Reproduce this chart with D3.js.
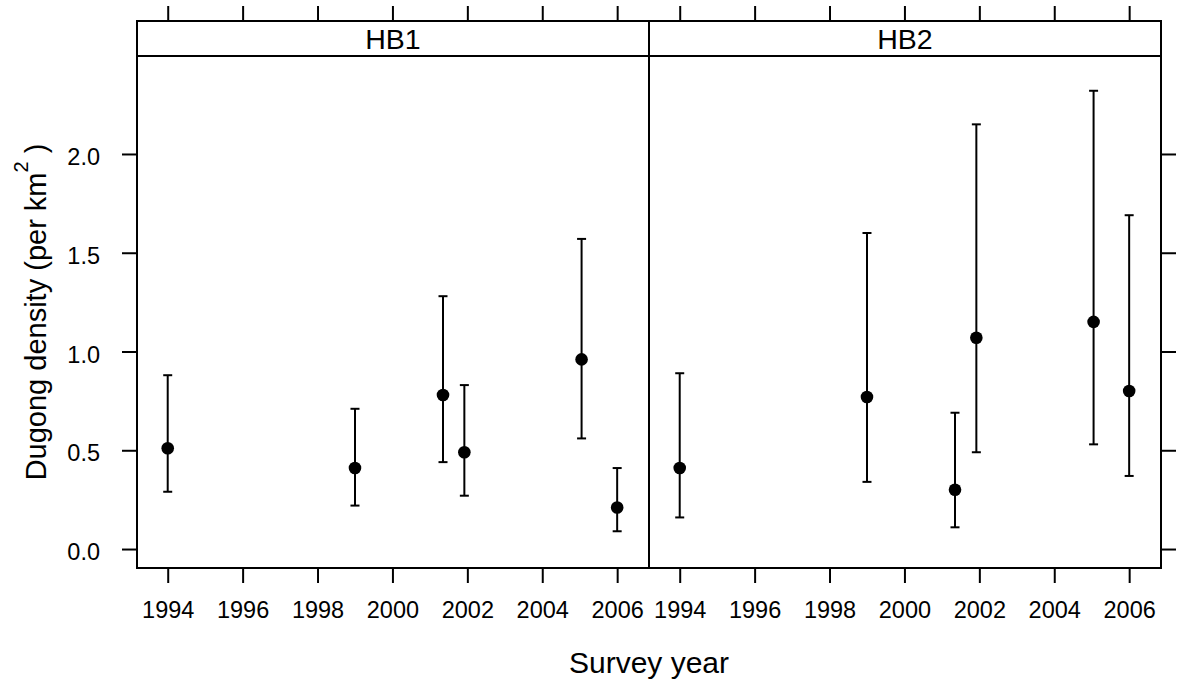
<!DOCTYPE html>
<html>
<head>
<meta charset="utf-8">
<script src="https://cdn.jsdelivr.net/npm/d3@7"></script>
<style>
  body { margin: 0; background: #fff; }
  text { font-family: "Liberation Sans", Arial, sans-serif; fill: #000; }
</style>
</head>
<body>
<script>
// survey data
const panels = ["HB1", "HB2"];
const years = [1994, 1999, 2001.35, 2001.92, 2005.05, 2006.0];
const hb1Est = [0.51, 0.41, 0.78, 0.49, 0.96, 0.21];
const hb1Lo  = [0.29, 0.22, 0.44, 0.27, 0.56, 0.09];
const hb1Hi  = [0.88, 0.71, 1.28, 0.83, 1.57, 0.41];
const hb2Est = [0.41, 0.77, 0.30, 1.07, 1.15, 0.80];
const hb2Lo  = [0.16, 0.34, 0.11, 0.49, 0.53, 0.37];
const hb2Hi  = [0.89, 1.60, 0.69, 2.15, 2.32, 1.69];
const xTicks = [1994, 1996, 1998, 2000, 2002, 2004, 2006];
const yTicks = [0, 0.5, 1.0, 1.5, 2.0];

const W = 1177, H = 684;
const plotLeft = 137, panelW = 512;
const stripTop = 21, panelTop = 56, panelBottom = 568;
const tickLen = 15;

const svg = d3.select("body").append("svg")
    .attr("width", W)
    .attr("height", H);

svg.append("rect").attr("width", W).attr("height", H).attr("fill", "#fff");

const y = d3.scaleLinear().domain([-0.096, 2.496]).range([panelBottom, panelTop]);

const series = [
  {est: hb1Est, lo: hb1Lo, hi: hb1Hi},
  {est: hb2Est, lo: hb2Lo, hi: hb2Hi}
];

panels.forEach((name, i) => {
  const x0 = plotLeft + i * panelW;
  const x = d3.scaleLinear().domain([1993.18, 2006.85]).range([x0, x0 + panelW]);
  const g = svg.append("g");

  // bottom axis with labels
  const xb = g.append("g")
      .attr("transform", `translate(0,${panelBottom})`)
      .call(d3.axisBottom(x).tickValues(xTicks).tickSize(tickLen).tickPadding(18).tickFormat(d3.format("d")));
  xb.select(".domain").remove();
  xb.selectAll("line").attr("stroke", "#000").attr("stroke-width", 2);
  xb.selectAll("text").attr("font-size", 23.5).attr("fill", "#000");

  // top ticks only
  const xt = g.append("g")
      .attr("transform", `translate(0,${stripTop})`)
      .call(d3.axisTop(x).tickValues(xTicks).tickSize(tickLen).tickFormat(""));
  xt.select(".domain").remove();
  xt.selectAll("line").attr("stroke", "#000").attr("stroke-width", 2);

  // strip
  g.append("rect")
      .attr("x", x0).attr("y", stripTop)
      .attr("width", panelW).attr("height", panelTop - stripTop)
      .attr("fill", "#fff").attr("stroke", "#000").attr("stroke-width", 2);
  g.append("text")
      .attr("x", x0 + panelW / 2).attr("y", (stripTop + panelTop) / 2 + 10)
      .attr("text-anchor", "middle").attr("font-size", 28.5)
      .text(name);

  // panel box
  g.append("rect")
      .attr("x", x0).attr("y", panelTop)
      .attr("width", panelW).attr("height", panelBottom - panelTop)
      .attr("fill", "none").attr("stroke", "#000").attr("stroke-width", 2);

  // error bars and points
  const s = series[i];
  const rows = years.map((yr, k) => ({yr, est: s.est[k], lo: s.lo[k], hi: s.hi[k]}));
  const bars = g.append("g").attr("stroke", "#000").attr("stroke-width", 2);
  bars.selectAll("line.v").data(rows).enter().append("line")
      .attr("x1", d => x(d.yr)).attr("x2", d => x(d.yr))
      .attr("y1", d => y(d.lo)).attr("y2", d => y(d.hi));
  bars.selectAll("line.lo").data(rows).enter().append("line")
      .attr("x1", d => x(d.yr) - 4.5).attr("x2", d => x(d.yr) + 4.5)
      .attr("y1", d => y(d.lo)).attr("y2", d => y(d.lo));
  bars.selectAll("line.hi").data(rows).enter().append("line")
      .attr("x1", d => x(d.yr) - 4.5).attr("x2", d => x(d.yr) + 4.5)
      .attr("y1", d => y(d.hi)).attr("y2", d => y(d.hi));
  g.selectAll("circle").data(rows).enter().append("circle")
      .attr("cx", d => x(d.yr)).attr("cy", d => y(d.est))
      .attr("r", 6.3).attr("fill", "#000");
});

// y axis left with labels
const yl = svg.append("g")
    .attr("transform", `translate(${plotLeft},0)`)
    .call(d3.axisLeft(y).tickValues(yTicks).tickSize(tickLen).tickPadding(22).tickFormat(d3.format(".1f")));
yl.select(".domain").remove();
yl.selectAll("line").attr("stroke", "#000").attr("stroke-width", 2);
yl.selectAll("text").attr("font-size", 23.5).attr("fill", "#000").attr("dy", "0.45em");

// y axis right, ticks only
const yr = svg.append("g")
    .attr("transform", `translate(${plotLeft + 2 * panelW},0)`)
    .call(d3.axisRight(y).tickValues(yTicks).tickSize(tickLen).tickFormat(""));
yr.select(".domain").remove();
yr.selectAll("line").attr("stroke", "#000").attr("stroke-width", 2);

// axis titles
svg.append("text")
    .attr("x", plotLeft + panelW).attr("y", 673)
    .attr("text-anchor", "middle").attr("font-size", 30)
    .text("Survey year");

const yt = svg.append("text")
    .attr("transform", `translate(46,${(panelTop + panelBottom) / 2}) rotate(-90)`)
    .attr("text-anchor", "middle").attr("font-size", 29);
yt.append("tspan").text("Dugong density (per km");
yt.append("tspan").attr("dy", -18).attr("font-size", 20).text("2");
yt.append("tspan").attr("dy", 18).text(" )");
</script>
</body>
</html>
